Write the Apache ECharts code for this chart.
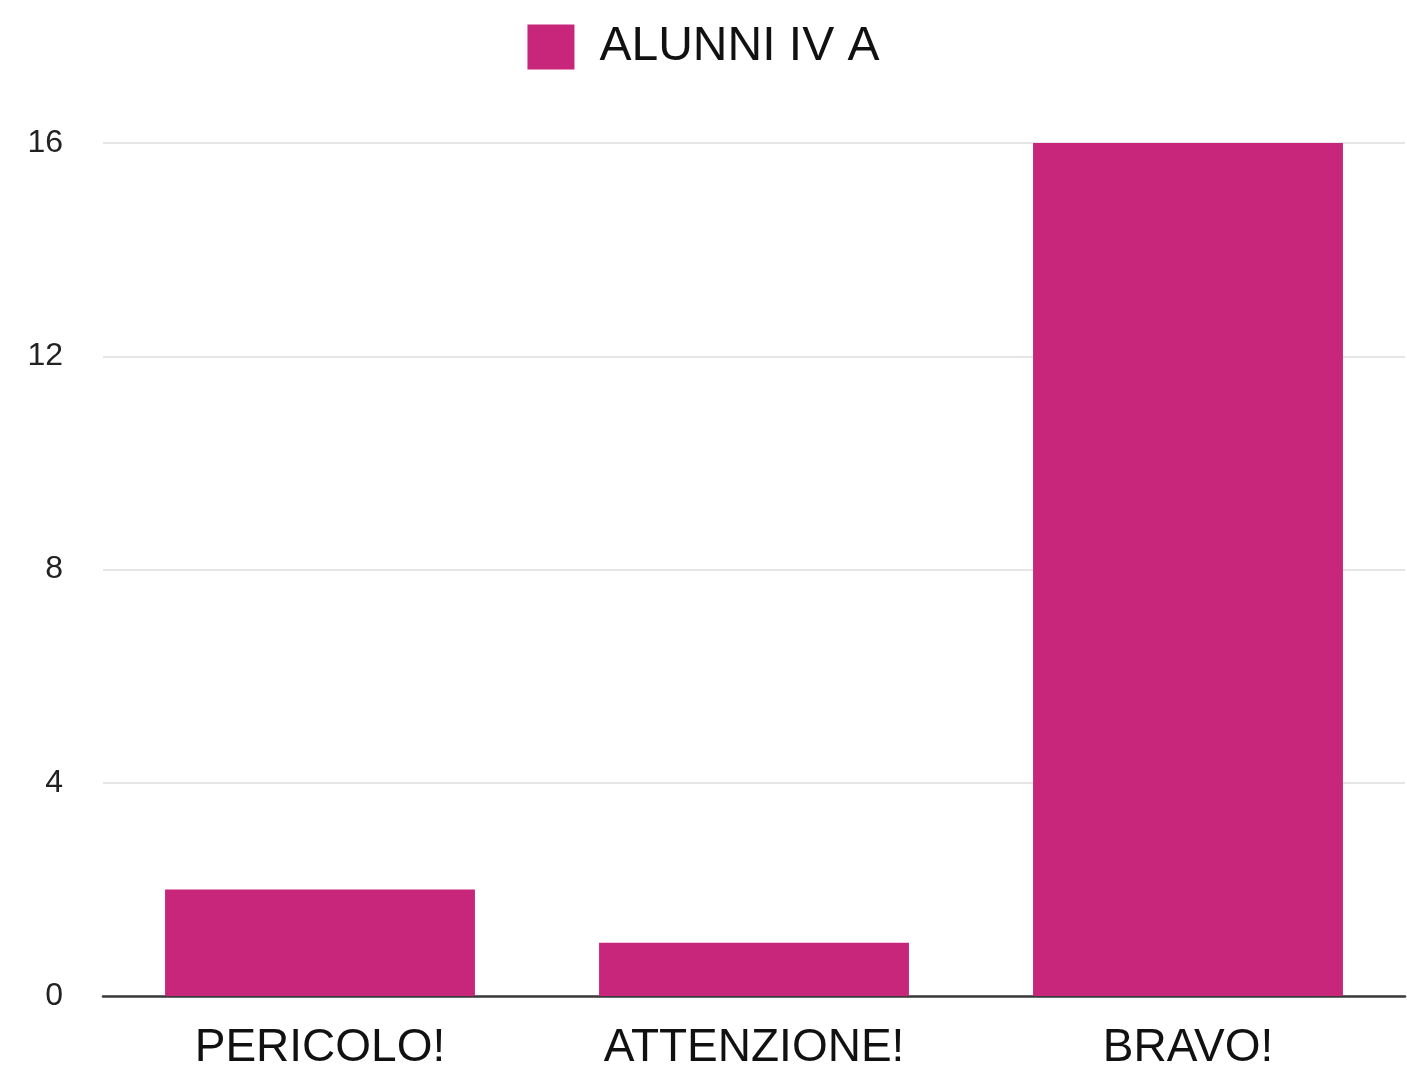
<!DOCTYPE html>
<html>
<head>
<meta charset="utf-8">
<script src="https://cdn.jsdelivr.net/npm/echarts@6/dist/echarts.min.js"></script>
<style>
html,body{margin:0;padding:0;background:#fff;}
#chart{width:1407px;height:1073px;}
</style>
</head>
<body>
<div id="chart"></div>
<script>
const categories = ['PERICOLO!', 'ATTENZIONE!', 'BRAVO!'];
const seriesName = 'ALUNNI IV A';
const values = [2, 1, 16];
const yTicks = { min: 0, max: 16, interval: 4 };

const chart = echarts.init(document.getElementById('chart'));
chart.setOption({
  backgroundColor: '#ffffff',
  animation: false,
  textStyle: { fontFamily: 'Liberation Sans, Arial, sans-serif' },
  legend: {
    top: 18,
    left: 'center',
    itemWidth: 47,
    itemHeight: 45,
    itemGap: 20,
    icon: 'rect',
    textStyle: { fontSize: 48, color: '#111', padding: [0, 0, 0, 20], fontFamily: 'Liberation Sans, Arial, sans-serif' },
    data: [seriesName]
  },
  grid: { left: 103, right: 2, top: 143, bottom: 77, containLabel: false },
  xAxis: {
    type: 'category',
    data: categories,
    axisLine: { show: true, lineStyle: { color: '#3a3a3a', width: 2.5 } },
    axisTick: { show: false },
    axisLabel: { fontSize: 46, color: '#111', margin: 29, fontFamily: 'Liberation Sans, Arial, sans-serif' }
  },
  yAxis: {
    type: 'value',
    min: yTicks.min,
    max: yTicks.max,
    interval: yTicks.interval,
    axisLine: { show: false },
    axisTick: { show: false },
    splitLine: { lineStyle: { color: '#dddddd', width: 1.5 } },
    axisLabel: { fontSize: 32, color: '#222', margin: 40, fontFamily: 'Liberation Sans, Arial, sans-serif' }
  },
  series: [{
    name: seriesName,
    type: 'bar',
    data: values,
    barCategoryGap: '28.6%',
    itemStyle: { color: '#C8267A' }
  }]
});
</script>
</body>
</html>
